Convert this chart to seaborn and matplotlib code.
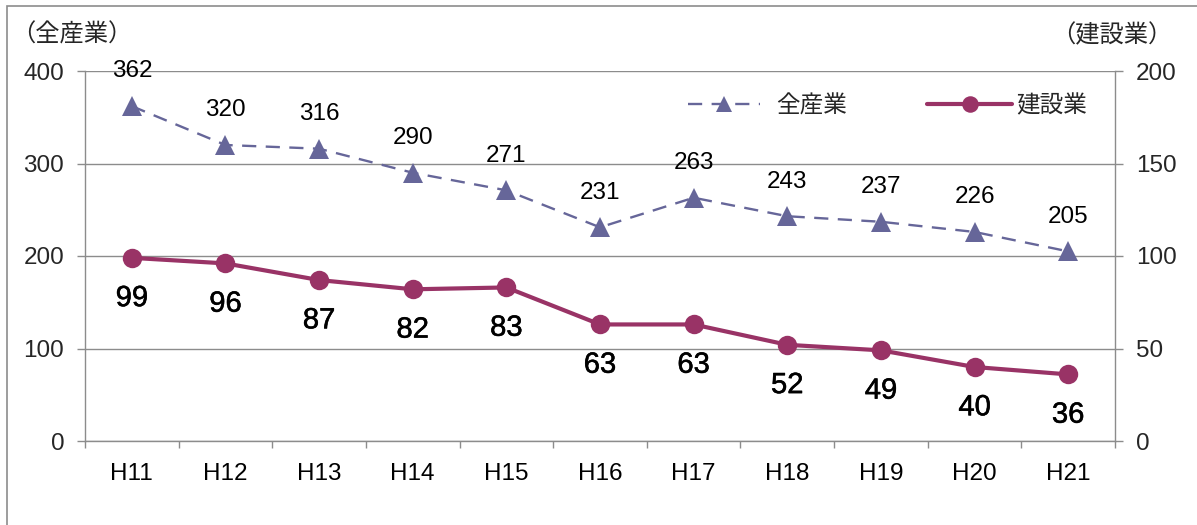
import matplotlib
matplotlib.use("Agg")
import matplotlib.pyplot as plt
import matplotlib.patheffects as pe
import seaborn as sns
import pandas as pd
import numpy as np
from matplotlib.patches import Rectangle

# ---- data ----
years = ["H11", "H12", "H13", "H14", "H15", "H16", "H17", "H18", "H19", "H20", "H21"]
all_industry = [362, 320, 316, 290, 271, 231, 263, 243, 237, 226, 205]
construction = [99, 96, 87, 82, 83, 63, 63, 52, 49, 40, 36]
series_names = ["全産業", "建設業"]

C_ALL = "#666699"
C_CON = "#993366"
GRAY = "#8c8c8c"

sns.set_theme(style="white")
plt.rcParams['font.family'] = ['Liberation Sans', 'Noto Sans CJK JP', 'DejaVu Sans']
CJK = ['Noto Sans CJK JP', 'DejaVu Sans']

W, H = 1197, 525
fig, ax = plt.subplots(figsize=(W / 100, H / 100), dpi=100)
fig.subplots_adjust(left=85 / W, right=1115 / W, top=1 - 71 / H, bottom=1 - 441 / H)
ax2 = ax.twinx()

x = list(range(len(years)))
df = pd.DataFrame({"x": x, "all": all_industry, "con": construction})

sns.lineplot(data=df, x="x", y="all", ax=ax, color=C_ALL, marker="^", markersize=14,
             linewidth=1.7, linestyle=(0, (6, 4)), markeredgewidth=0, legend=False,
             label=series_names[0])
sns.lineplot(data=df, x="x", y="con", ax=ax2, color=C_CON, marker="o", markersize=14,
             linewidth=3, markeredgewidth=0, legend=False, label=series_names[1])

# axes ranges & ticks
ax.set_xlim(-0.5, len(years) - 0.5)
ax.set_ylim(0, 400)
ax2.set_ylim(0, 200)
ax.set_yticks(np.arange(0, 401, 100))
ax2.set_yticks(np.arange(0, 201, 50))
ax.set_xticks(x)
ax.set_xticklabels(years)
ax.set_xticks(np.arange(-0.5, len(years), 1), minor=True)
ax.tick_params(axis="x", which="major", length=0, pad=16, labelsize=17.5, colors="black")
ax.tick_params(axis="x", which="minor", length=5, width=1, color=GRAY, direction="out", bottom=True)
ax.tick_params(axis="y", which="major", length=6, width=1, color=GRAY, direction="out", pad=9,
               labelsize=17.5, left=True)
ax2.tick_params(axis="y", which="major", length=6, width=1, color=GRAY, direction="out", pad=9,
                labelsize=17.5, right=True)
ax.set_xlabel("")
ax.set_ylabel("")
ax2.set_ylabel("")

ax.yaxis.grid(True, color=GRAY, linewidth=1)
ax.xaxis.grid(False)
ax2.grid(False)

for s in ["top", "right"]:
    ax.spines[s].set_visible(False)
for s in ["left", "bottom"]:
    ax.spines[s].set_color(GRAY)
    ax.spines[s].set_linewidth(1)
for s in ["top", "left", "bottom"]:
    ax2.spines[s].set_visible(False)
ax2.spines["right"].set_color(GRAY)
ax2.spines["right"].set_linewidth(1)

# data labels
for i, v in enumerate(all_industry):
    ax.annotate(str(v), (i, v), xytext=(0, 25), textcoords="offset points",
                ha="center", va="center", fontsize=17.5, color="black")
for i, v in enumerate(construction):
    ax2.annotate(str(v), (i, v), xytext=(0, -29), textcoords="offset points",
                 ha="center", va="center", fontsize=21, color="black",
                 path_effects=[pe.withStroke(linewidth=0.4, foreground="black")])

# legends (two separate entries to match spacing)
h_all = ax.get_lines()[0]
h_con = ax2.get_lines()[0]
leg1 = ax2.legend([h_all], [series_names[0]], loc="center left",
                  bbox_to_anchor=((688 - 85) / 1030, 0.905), frameon=False,
                  handlelength=3.05, handletextpad=0.7, borderpad=0, borderaxespad=0,
                  markerscale=0.85, prop={"family": CJK, "size": 17})
ax2.add_artist(leg1)
leg2 = ax2.legend([h_con], [series_names[1]], loc="center left",
                  bbox_to_anchor=((927 - 85) / 1030, 0.905), frameon=False,
                  handlelength=3.6, handletextpad=0.2, borderpad=0, borderaxespad=0,
                  markerscale=0.85, prop={"family": CJK, "size": 17})

# axis titles
fig.text(11 / W, 1 - 35 / H, "（全産業）", ha="left", va="center", fontsize=17.5, family=CJK)
fig.text(1172 / W, 1 - 35 / H, "（建設業）", ha="right", va="center", fontsize=17.5, family=CJK)

# outer frame
fig.patches.append(Rectangle((7 / W, -0.2), 1.2, 1 - 6 / H + 0.2, transform=fig.transFigure,
                             fill=False, edgecolor=GRAY, linewidth=1.2, zorder=0))

fig.savefig("out.png", dpi=100)
